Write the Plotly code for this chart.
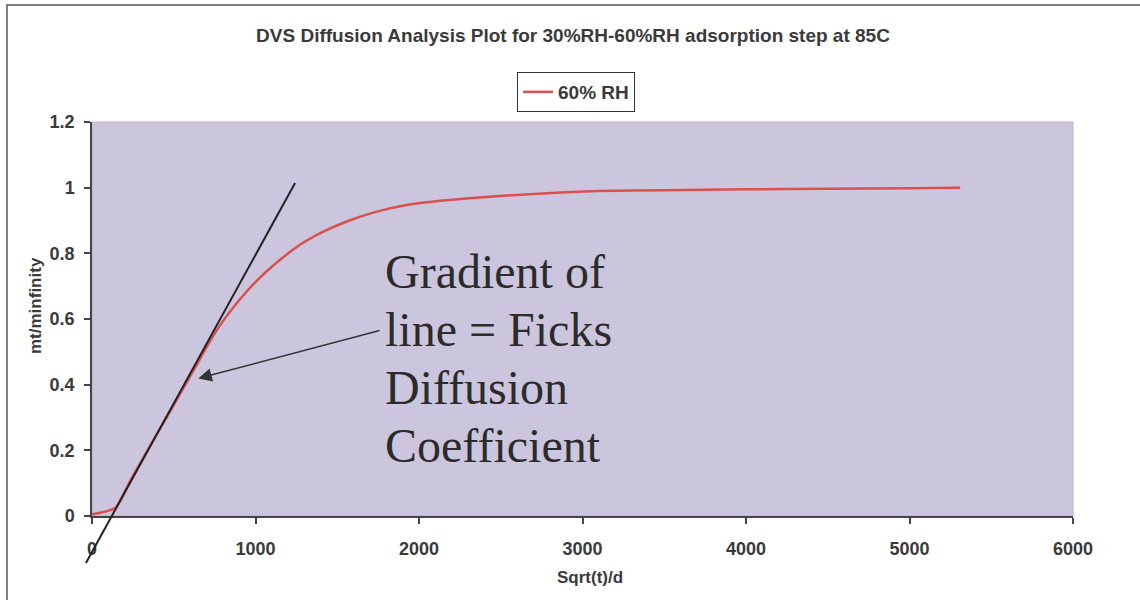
import plotly.graph_objects as go

# Uptake curve: normalised mass uptake vs sqrt(t)/d
sqrt_t_over_d = [0, 50, 110, 145, 171, 232, 336, 477, 600, 660, 722, 803, 905, 1007,
                 1130, 1272, 1415, 1558, 1720, 1924, 2128, 2495, 2862, 3100, 3500,
                 4000, 4500, 5000, 5310]
mt_minf = [0.005, 0.01, 0.018, 0.025, 0.045, 0.105, 0.197, 0.318, 0.425, 0.478, 0.533,
           0.595, 0.66, 0.716, 0.772, 0.826, 0.866, 0.897, 0.924, 0.947, 0.96, 0.975,
           0.985, 0.99, 0.992, 0.995, 0.997, 0.998, 1.0]

# Initial-slope tangent (Fick's law region)
tangent_x = [-37, 1242]
tangent_y = [-0.143, 1.014]

# Arrow pointing at the tangent region
arrow_tip = (650, 0.419)
arrow_tail = (1768, 0.566)

note_lines = ["Gradient of", "line = Ficks", "Diffusion", "Coefficient"]

x_range = [0, 6000]
y_range = [0, 1.2]
x_ticks = [0, 1000, 2000, 3000, 4000, 5000, 6000]
y_ticks = [0, 0.2, 0.4, 0.6, 0.8, 1.0, 1.2]
y_ticktext = ["0", "0.2", "0.4", "0.6", "0.8", "1", "1.2"]

W, H = 1140, 600
TXT = "#3a3a3a"
FONT = "Liberation Sans, Arial, sans-serif"
SERIF = "Liberation Serif, Times New Roman, serif"


def px(xp):
    return xp / W


def py(yp):
    return 1 - yp / H


# plot-area geometry (paper fractions)
xd = [px(92), px(1073)]
yd = [py(516), py(122)]
# wider, invisible subplot so the tangent can run past the axes
xd2 = [px(60), xd[1]]
yd2 = [py(580), yd[1]]
xs = (x_range[1] - x_range[0]) / (xd[1] - xd[0])
ys = (y_range[1] - y_range[0]) / (yd[1] - yd[0])
x2_range = [x_range[0] - (xd[0] - xd2[0]) * xs, x_range[1]]
y2_range = [y_range[0] - (yd[0] - yd2[0]) * ys, y_range[1]]

fig = go.Figure()
fig.add_trace(go.Scatter(
    x=sqrt_t_over_d, y=mt_minf, mode="lines", name="60% RH",
    line=dict(color="#d9504f", width=2.5, shape="spline", smoothing=0.6),
    xaxis="x", yaxis="y"))
fig.add_trace(go.Scatter(
    x=tangent_x, y=tangent_y, mode="lines", showlegend=False,
    line=dict(color="#222222", width=2), xaxis="x2", yaxis="y2"))

tickfont = dict(family=FONT, size=18, color=TXT, weight="bold")

fig.update_layout(
    width=W, height=H,
    margin=dict(l=0, r=0, t=0, b=0, autoexpand=False),
    paper_bgcolor="white",
    plot_bgcolor="rgba(0,0,0,0)",
    title=dict(text="DVS Diffusion Analysis Plot for 30%RH-60%RH adsorption step at 85C",
               x=px(573), y=py(35), xanchor="center", yanchor="middle",
               xref="paper", yref="paper",
               font=dict(family=FONT, size=19, color=TXT, weight="bold")),
    showlegend=True,
    legend=dict(x=px(517), y=py(72), xanchor="left", yanchor="top",
                bgcolor="white", bordercolor="#333333", borderwidth=1,
                font=dict(family=FONT, size=19, color=TXT, weight="bold")),
    xaxis=dict(domain=xd, range=x_range, tickvals=x_ticks, showgrid=False,
               zeroline=False, showline=True, linecolor="#444444", linewidth=1.5,
               ticks="outside", ticklen=6, tickcolor="#444444", tickwidth=1.5,
               tickfont=tickfont, ticklabelstandoff=10, anchor="y", automargin=False),
    yaxis=dict(domain=yd, range=y_range, tickvals=y_ticks, ticktext=y_ticktext,
               showgrid=False, zeroline=False, showline=True, linecolor="#444444",
               linewidth=1.5, ticks="outside", ticklen=6, tickcolor="#444444",
               tickwidth=1.5, tickfont=tickfont, ticklabelstandoff=6, anchor="x",
               automargin=False),
    xaxis2=dict(domain=xd2, range=x2_range, visible=False, anchor="y2", automargin=False),
    yaxis2=dict(domain=yd2, range=y2_range, visible=False, anchor="x2", automargin=False),
)

# plot area fill
fig.add_shape(type="rect", xref="x domain", yref="y domain", x0=0, x1=1, y0=0, y1=1,
              fillcolor="#cbc6dd", line=dict(color="#b8b4c8", width=1), layer="below")
# outer chart frame
fig.add_shape(type="rect", xref="paper", yref="paper", x0=px(7), x1=1.05, y0=-0.05,
              y1=py(5), line=dict(color="#555555", width=1.5))

# axis titles
fig.add_annotation(text="mt/minfinity", xref="paper", yref="paper", x=px(35), y=py(306),
                   xanchor="center", yanchor="middle", textangle=-90, showarrow=False,
                   font=dict(family=FONT, size=17, color=TXT, weight="bold"))
fig.add_annotation(text="Sqrt(t)/d", xref="paper", yref="paper", x=px(590), y=py(577),
                   xanchor="center", yanchor="middle", showarrow=False,
                   font=dict(family=FONT, size=17, color=TXT, weight="bold"))

# explanatory note, one line per annotation (baselines ~58 px apart)
for i, line in enumerate(note_lines):
    fig.add_annotation(text=line, xref="paper", yref="paper",
                       x=px(383), y=py(287 + 58.3 * i - 16),
                       xanchor="left", yanchor="middle", align="left", showarrow=False,
                       font=dict(family=SERIF, size=48, color="#2b2b2b"))
fig.add_annotation(text="", x=arrow_tip[0], y=arrow_tip[1], xref="x", yref="y",
                   ax=arrow_tail[0], ay=arrow_tail[1], axref="x", ayref="y",
                   showarrow=True, arrowhead=2, arrowsize=1.8, arrowwidth=1.5,
                   arrowcolor="#333333", standoff=0)

fig.write_html("out.html")
